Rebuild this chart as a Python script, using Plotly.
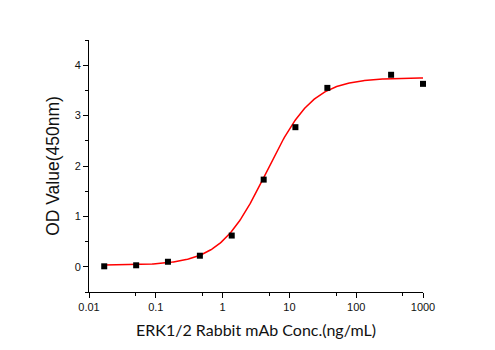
import numpy as np
import plotly.graph_objects as go

# Antibody concentration (ng/mL) and measured OD at 450 nm
conc = [0.0169, 0.0508, 0.152, 0.457, 1.37, 4.12, 12.3, 37.0, 333.0, 1000.0]
od = [0.01, 0.03, 0.10, 0.22, 0.62, 1.73, 2.77, 3.55, 3.81, 3.63]

# Four-parameter logistic fit parameters
fit_bottom = 0.03
fit_top = 3.75
fit_ec50 = 4.57
fit_hill = 1.25

x_fit = np.logspace(np.log10(conc[0]), np.log10(conc[-1]), 300)
y_fit = fit_bottom + (fit_top - fit_bottom) / (1 + (fit_ec50 / x_fit) ** fit_hill)

x_ticks = [0.01, 0.1, 1, 10, 100, 1000]
x_tick_text = ["0.01", "0.1", "1", "10", "100", "1000"]
x_minor = [0.05, 0.5, 5, 50, 500]
y_ticks = [0, 1, 2, 3, 4]

fig = go.Figure()
fig.add_trace(go.Scatter(
    x=x_fit, y=y_fit, mode="lines",
    line=dict(color="#ff0000", width=1.5), hoverinfo="skip",
    cliponaxis=False,
))
fig.add_trace(go.Scatter(
    x=conc, y=od, mode="markers",
    marker=dict(symbol="square", size=6, color="black"),
    cliponaxis=False,
))

tick_font = dict(family="Liberation Sans, Arial, sans-serif", size=11, color="#111")

fig.update_layout(
    width=495, height=350,
    margin=dict(l=89, r=72, t=40, b=58),
    paper_bgcolor="white", plot_bgcolor="white",
    showlegend=False,
    xaxis=dict(
        type="log", range=[-2, 3],
        tickmode="array", tickvals=x_ticks, ticktext=x_tick_text,
        ticks="outside", ticklen=5, tickwidth=1, tickcolor="black",
        minor=dict(tickmode="array", tickvals=x_minor, ticks="outside",
                   ticklen=3, tickwidth=1, tickcolor="black"),
        showline=True, linecolor="black", linewidth=1,
        showgrid=False, zeroline=False,
        tickfont=tick_font,
        title=dict(text="ERK1/2 Rabbit mAb Conc.(ng/mL)",
                   font=dict(family="Lato, Carlito, sans-serif", size=16, color="#111"),
                   standoff=12),
    ),
    yaxis=dict(
        range=[-0.5, 4.5],
        tickmode="array", tickvals=y_ticks,
        ticks="outside", ticklen=5, tickwidth=1, tickcolor="black",
        minor=dict(dtick=0.5, ticks="outside", ticklen=3, tickwidth=1,
                   tickcolor="black", showgrid=False),
        showline=True, linecolor="black", linewidth=1,
        showgrid=False, zeroline=False,
        tickfont=tick_font,
        title=dict(text="OD Value(450nm)",
                   font=dict(family="Liberation Sans, Arial, sans-serif", size=17.5, color="#111"),
                   standoff=10),
    ),
)

fig.write_html("out.html")
